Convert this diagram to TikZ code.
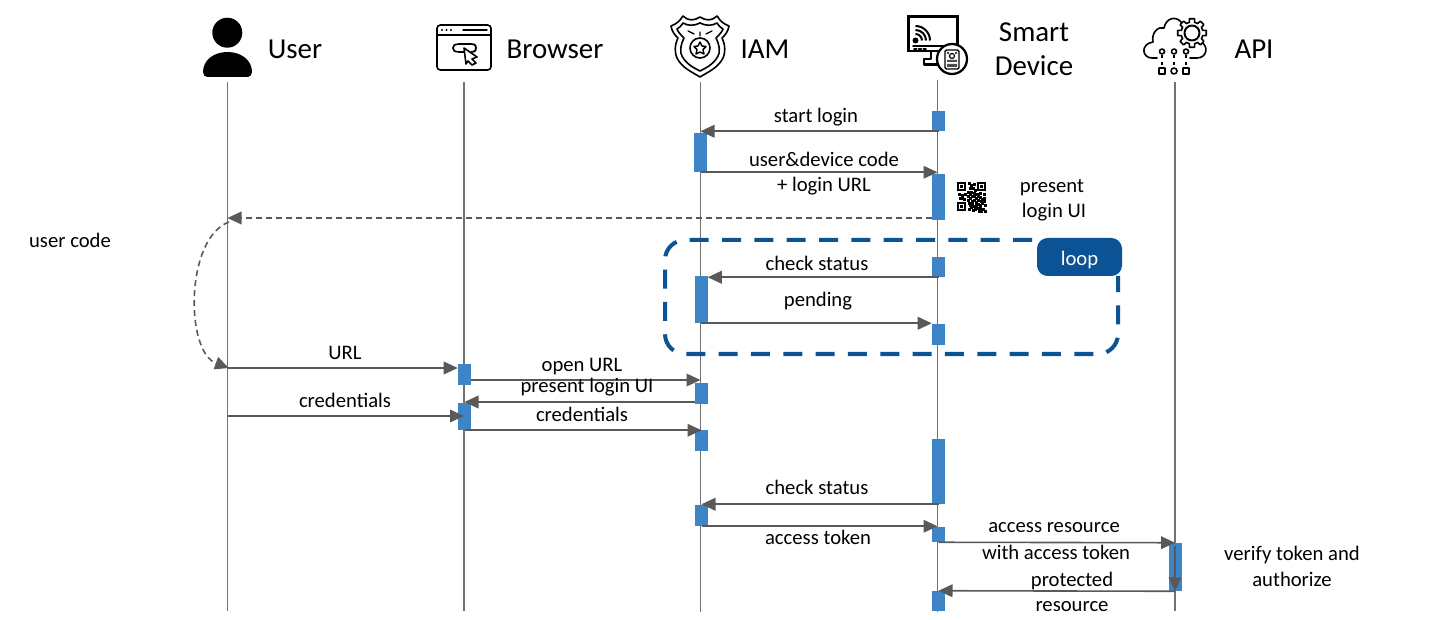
\documentclass[tikz,border=0pt]{standalone}
\usepackage{fontspec}
\setmainfont{Carlito}
\usetikzlibrary{arrows.meta,calc}
\definecolor{barblue}{HTML}{3D85C6}
\definecolor{loopblue}{HTML}{0B5394}
\definecolor{msggray}{HTML}{595959}
\begin{document}
\begin{tikzpicture}[x=0.75pt,y=-0.75pt,
    lifeline/.style={draw=msggray!85,line width=1.1pt},
    actbar/.style={fill=barblue,minimum width=9.75pt,minimum height=#1*0.75pt,inner sep=0pt},
    msg/.style={draw=msggray,line width=1.2pt,-{Triangle[length=10.5pt,width=9.5pt,fill=msggray]}},
    msgdash/.style={msg,dash pattern=on 4.5pt off 3pt},
    lbl/.style={font=\fontsize{15.5}{18}\selectfont,inner sep=0pt,yshift=-1pt},
    head/.style={font=\fontsize{21.7}{25.5}\selectfont,inner sep=0pt,yshift=-0.8pt},
    icon/.style={draw=black,line width=1.2pt,line join=round,line cap=round}]
    \useasboundingbox (0,0) rectangle (1446,620);

    % Lifelines
    \coordinate (usertop) at (227.5,82);  \coordinate (userend) at (227.5,611);
    \coordinate (browtop) at (464,82);    \coordinate (browend) at (464,611);
    \coordinate (iamtop) at (700.5,82);   \coordinate (iamend) at (700.5,612);
    \coordinate (devtop) at (937.5,80);   \coordinate (devend) at (937.5,612);
    \coordinate (apitop) at (1175,82);    \coordinate (apiend) at (1175,611);
    \draw[lifeline] (usertop) -- (userend);
    \draw[lifeline] (browtop) -- (browend);
    \draw[lifeline] (iamtop) -- (iamend);
    \draw[lifeline] (devtop) -- (devend);
    \draw[lifeline] (apitop) -- (apiend);

    % Headers
    \node[head] (userlbl) at (295,48) {User};
    \node[head] (browlbl) at (555,48) {Browser};
    \node[head] (iamlbl) at (765,48) {IAM};
    \node[head,align=center] (devlbl) at (1034,48) {Smart\\Device};
    \node[head] (apilbl) at (1254,48) {API};

    % User icon
    \fill (227.3,32.7) circle (15);
    \fill (203,72) .. controls (203,60) and (214,52) .. (227.5,52) .. controls (241,52) and (252,60) .. (252,72)
        .. controls (252,75) and (250,77) .. (248,77) -- (207,77) .. controls (205,77) and (203,75) .. (203,72) -- cycle;

    % Browser icon
    \draw[icon,rounded corners=2.5] (437,25) rectangle (491,70);
    \draw[icon,line width=1.1pt] (437,35) -- (491,35);
    \draw[icon,line width=1.1pt] (463,30) -- (487,30);
    \fill (442,30) circle (1.2) (446.5,30) circle (1.2) (451,30) circle (1.2);
    \draw[icon,rounded corners=2] (466,52) -- (456,52) -- (453,50) -- (453,46) -- (456,44) -- (474,44) -- (476,46) -- (476,50) -- (474,52) -- (472,52);
    \draw[icon,fill=white] (464,48) -- (477,57) -- (472,59) -- (476,63) -- (472,65) -- (468,61) -- (466,64) -- cycle;

    % IAM icon
    \draw[icon] (700,17) .. controls (694,21) and (688,21) .. (683,16) .. controls (679,22) and (676,24) .. (671,26)
        .. controls (672,32) and (675,35) .. (678,38) .. controls (674,46) and (675,54) .. (677,58)
        .. controls (682,68) and (692,72) .. (700,77) .. controls (708,72) and (718,68) .. (723,58)
        .. controls (725,54) and (726,46) .. (722,38) .. controls (725,35) and (728,32) .. (729,26)
        .. controls (724,24) and (721,22) .. (717,16) .. controls (712,21) and (706,21) .. (700,17) -- cycle;
    \draw[icon] (700,23) .. controls (694,26) and (688,26) .. (683,23) .. controls (681,26) and (679,28) .. (677,29)
        .. controls (678,32) and (681,35) .. (684,38) .. controls (680,46) and (680,53) .. (682,56)
        .. controls (686,64) and (694,68) .. (700,71) .. controls (706,68) and (714,64) .. (718,56)
        .. controls (720,53) and (720,46) .. (716,38) .. controls (719,35) and (722,32) .. (723,29)
        .. controls (721,28) and (719,26) .. (717,23) .. controls (712,26) and (706,26) .. (700,23) -- cycle;
    \draw[icon] (700,48) circle (10);
    \draw[icon,line width=1.1pt] (700,42) -- (702,46) -- (706,46.5) -- (703,49.5) -- (704,54) -- (700,52) -- (696,54) -- (697,49.5) -- (694,46.5) -- (698,46) -- cycle;
    \draw[icon,line width=1pt] (700,32) -- (700,36) (688,31) -- (694,34) (712,31) -- (706,34);

    % Device icon
    \draw[icon,line width=2.2pt,line join=miter] (908.5,16.5) rectangle (957.5,51);
    \draw[icon,line width=1.2pt] (913,46) -- (954,46);
    \draw[icon,line width=1.2pt,dash pattern=on 2 off 1.5] (914,49) -- (926,49);
    \fill (915.5,40.5) circle (3);
    \draw[icon,line width=1.5pt,line cap=butt] (915.5,34) arc (-90:0:6.5) (915.5,30) arc (-90:0:10.5) (915.5,26) arc (-90:0:14.5);
    \draw[icon,line width=1.7pt] (931,52) -- (931,59) -- (924,59) -- (924,64.5) -- (941,64.5);
    \draw[icon,line width=1.7pt,fill=white] (952,59) circle (15);
    \draw[icon,line width=1.1pt,rounded corners=1] (945,50) rectangle (959,69);
    \draw[icon,line width=0.9pt] (952,56) circle (2.5);
    \fill[black!70] (947,52) rectangle (949,54) (955,52) rectangle (957,54) (947,60) rectangle (957,62) (947,64) rectangle (957,67);

    % API icon
    \draw[icon] (1157,58) -- (1152,58) .. controls (1142,58) and (1140,44) .. (1153,42) .. controls (1151,32) and (1159,26) .. (1164,28)
        .. controls (1166,18) and (1176,15) .. (1182,23);
    \draw[icon] (1190,58) -- (1197,58) .. controls (1207,58) and (1209,46) .. (1201,42);
    \draw[icon,fill=white,shift={(1192,33)}] (-10:14.5)
        \foreach \a in {0,45,...,315} {-- (\a-10:14.5) -- (\a+10:14.5) -- (\a+14:11) -- (\a+31:11)} -- cycle;
    \draw[icon,line width=1.5pt] (1192,33) circle (7.5);
    \draw[icon] (1162,51.5) circle (2.5) (1174,51.5) circle (2.5) (1186,51.5) circle (2.5);
    \draw[icon,line cap=butt,dash pattern=on 2.5 off 2.5] (1162,55) -- (1162,67) (1174,55) -- (1174,67) (1186,55) -- (1186,67);
    \draw[icon] (1159,68) rectangle (1165,74) (1174,71) circle (3) (1183,68) rectangle (1189,74);

    % Activation bars
    \node[actbar=20] (sd1) at (938.5,121) {};
    \node[actbar=39] (iam1) at (700.5,152.5) {};
    \node[actbar=46] (sd2) at (938.5,197) {};
    \node[actbar=20] (sd3) at (938.5,267) {};
    \node[actbar=47] (iam2) at (701,299.5) {};
    \node[actbar=21] (sd4) at (938.5,334.5) {};
    \node[actbar=21] (br1) at (464.5,374.5) {};
    \node[actbar=21] (iam3) at (701.5,393.5) {};
    \node[actbar=27] (br2) at (464.5,416.5) {};
    \node[actbar=21] (iam4) at (701.5,440.5) {};
    \node[actbar=65] (sd5) at (938.5,471.5) {};
    \node[actbar=21] (iam5) at (701.5,515.5) {};
    \node[actbar=15] (sd6) at (938.5,534.5) {};
    \node[actbar=48] (api1) at (1175,567) {};
    \node[actbar=20] (sd7) at (938.5,601) {};

    % Messages
    \draw[msg] (sd1.south) -- (sd1.south -| iamtop);
    \node[lbl] (startlbl) at (816,116) {start login};
    \draw[msg] (iam1.south) -- (iam1.south -| devtop);
    \node[lbl] (codelbl) at (824,158) {user\&device code};
    \node[lbl] (urllbl) at (824,185) {+ login URL};
    \coordinate (qrleft) at (932,218);
    \draw[msgdash] (qrleft) -- (qrleft -| usertop);
    \coordinate (curvetop) at (229,222);
    \coordinate (curveend) at (229,368);
    \draw[msgdash] (curvetop) .. controls (185,238) and (185,352) .. (curveend);
    \node[lbl] (usercodelbl) at (70,239) {user code};
    \node[lbl] (presentlbl) at (1052,186) {present};
    \node[lbl] (loginuilbl) at (1054,211) {login UI};

    % Loop
    \draw[loopblue,line width=3pt,dash pattern=on 14.25pt off 10pt,rounded corners=15pt] (1032,240) -- (665,240) -- (665,354) -- (1118,354) -- (1118,276);
    \node[fill=loopblue,rounded corners=8pt,minimum width=63.75pt,minimum height=28.5pt,inner sep=0pt] (loopbox) at (1079.5,257) {};
    \node[lbl,text=white] (looplbl) at (1079.5,259) {loop};
    \draw[msg] (sd3.south) -- (sd3.south -| iam2.east);
    \node[lbl] (check1lbl) at (817,262) {check status};
    \draw[msg] (iam2.south) -- (iam2.south -| sd4.west);
    \node[lbl] (pendlbl) at (818,300) {pending};

    % Login in browser
    \coordinate (urlstart) at (228,368);
    \draw[msg] (urlstart) -- (urlstart -| br1.west);
    \node[lbl] (urlmsg) at (345,352) {URL};
    \coordinate (openstart) at (471,380);
    \draw[msg] (openstart) -- (openstart -| iamtop);
    \node[lbl] (openlbl) at (582,365) {open URL};
    \coordinate (plustart) at (695,402);
    \draw[msg] (plustart) -- (plustart -| br2.center);
    \node[lbl] (plulbl) at (587,386) {present login UI};
    \coordinate (credstart) at (228,416);
    \draw[msg] (credstart) -- (credstart -| browtop);
    \node[lbl] (cred1lbl) at (345,399) {credentials};
    \draw[msg] (br2.south) -- (br2.south -| iam4.center);
    \node[lbl] (cred2lbl) at (582,413) {credentials};

    % Token and resource
    \draw[msg] (sd5.south) -- (sd5.south -| iam5.center);
    \node[lbl] (check2lbl) at (817,486) {check status};
    \draw[msg] (iam5.south) -- (iam5.south -| devtop);
    \node[lbl] (tokenlbl) at (818,536) {access token};
    \draw[msg] (sd6.south) -- (api1.north);
    \node[lbl] (reslbl) at (1054,526) {access resource};
    \node[lbl] (withlbl) at (1056,551) {with access token};
    \draw[msg] (api1.north) ++(0,3) coordinate (selftop) (selftop) -- (api1.south);
    \node[lbl] (verifylbl) at (1292,554) {verify token and};
    \node[lbl] (authlbl) at (1292,578) {authorize};
    \draw[msg] (api1.south) -- (sd7.north);
    \node[lbl] (protlbl) at (1072,580) {protected};
    \node[lbl] (resourcelbl) at (1072,605) {resource};

    % QR code
    \begin{scope}[shift={(957,182)}]
        \foreach \cx/\cy in {0/0,20/0,0/20}
            {\draw[line width=1pt] (\cx+1,\cy+1) rectangle (\cx+8,\cy+8);
             \fill (\cx+3,\cy+3) rectangle (\cx+6,\cy+6);}
        \foreach \cx/\cy in {11/0,13/2,16/1,12/5,15/5,17/7,10/9,13/9,16/10,19/11,22/10,26/11,1/11,4/12,7/11,2/15,6/16,10/13,14/13,18/15,22/14,26/15,10/17,14/18,18/19,12/22,16/23,20/21,24/20,27/22,11/26,15/27,19/25,22/25,25/26,27/28,21/28,4/15,12/11,16/13,20/13,24/16,12/15,16/17,20/17,23/18,11/20,14/21,18/22,22/22,26/18,13/24,17/26,23/28}
            \fill (\cx,\cy) rectangle +(2.6,2.6);
    \end{scope}
\end{tikzpicture}
\end{document}
